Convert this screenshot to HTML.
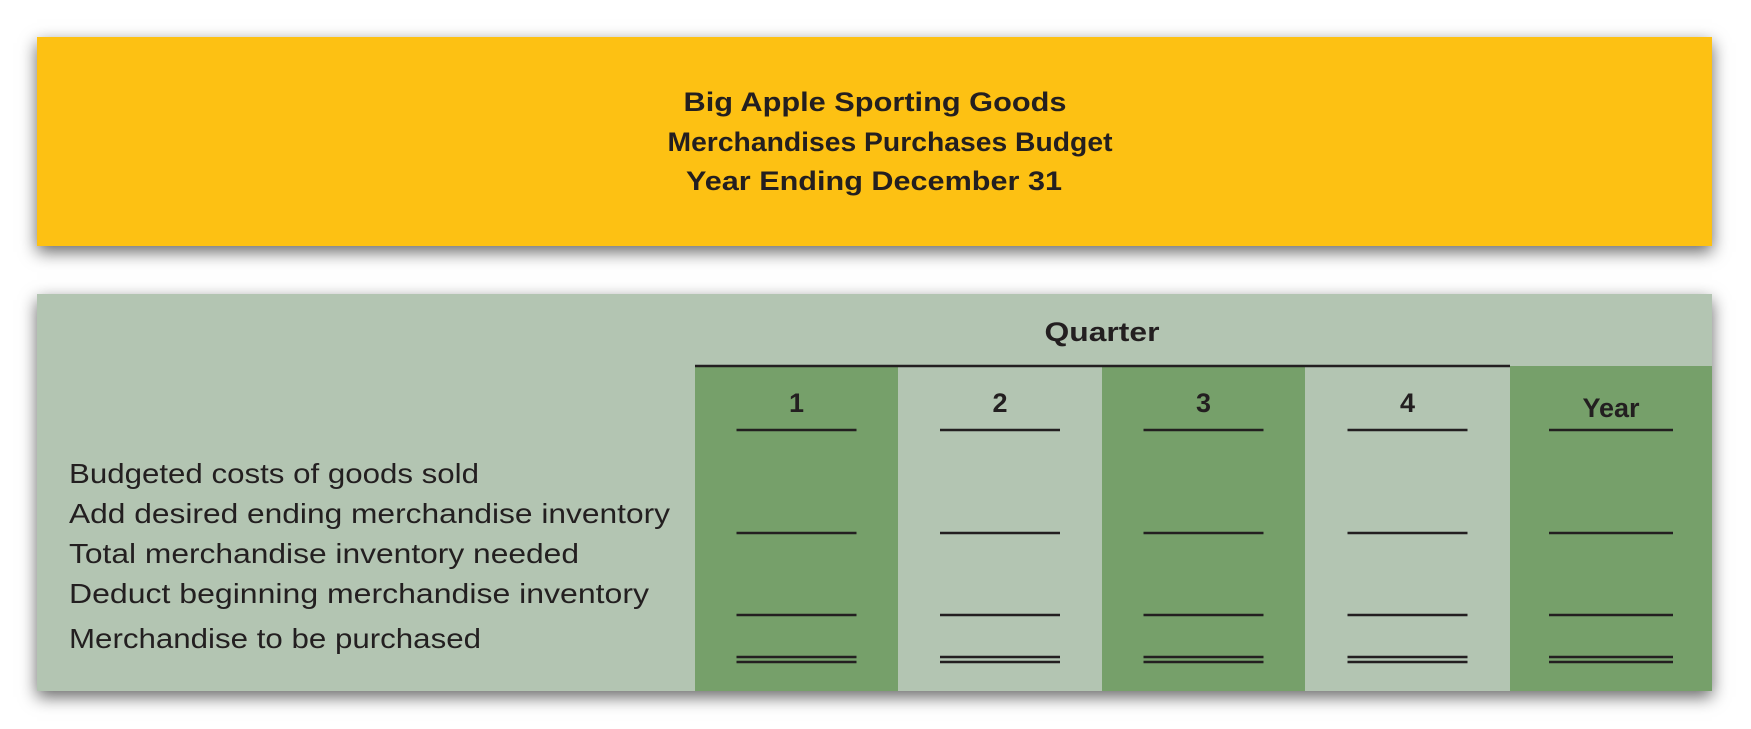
<!DOCTYPE html>
<html><head><meta charset="utf-8"><style>
html,body{margin:0;padding:0;background:#fff;}
body{width:1751px;height:729px;position:relative;overflow:hidden;font-family:"Liberation Sans",sans-serif;}
.box{position:absolute;left:37px;width:1675px;box-shadow:0 6px 16px rgba(0,0,0,0.6);}
svg{position:absolute;left:0;top:0;}
</style></head><body>
<div class="box" style="top:37px;height:209px;background:#FDC113;"></div>
<div class="box" style="top:294px;height:397px;background:#B3C5B2;"></div>
<svg width="1751" height="729">
  <g id="cols"></g>
  <g font-weight="bold" fill="#231f20" font-size="27" text-anchor="middle">
    <text x="875" y="111" textLength="383" lengthAdjust="spacingAndGlyphs">Big Apple Sporting Goods</text>
    <text x="890" y="151" textLength="445" lengthAdjust="spacingAndGlyphs">Merchandises Purchases Budget</text>
    <text x="874" y="190" textLength="376" lengthAdjust="spacingAndGlyphs">Year Ending December 31</text>
    <text x="1102" y="341" font-size="27" textLength="115" lengthAdjust="spacingAndGlyphs">Quarter</text>
  </g>
  <line x1="695" y1="366" x2="1510" y2="366" stroke="#231f20" stroke-width="2.5"/>
  <g id="rows" fill="#231f20" font-size="28"></g>
  <g id="marks"></g>
</svg>
<script>
const colLabels = ['1','2','3','4','Year'];
const rowLabels = ['Budgeted costs of goods sold','Add desired ending merchandise inventory','Total merchandise inventory needed','Deduct beginning merchandise inventory','Merchandise to be purchased'];
const rowWidths = [410,601,510,580,412];
const NS='http://www.w3.org/2000/svg';
const colX=[695,898,1102,1305,1510,1712];
const rowY=[483,523,563,603,648];
const cols=document.getElementById('cols'), marks=document.getElementById('marks'), rows=document.getElementById('rows');
function mk(tag,attrs,parent){const e=document.createElementNS(NS,tag);for(const k in attrs)e.setAttribute(k,attrs[k]);parent.appendChild(e);return e;}
colLabels.forEach((lab,i)=>{
  const x0=colX[i], x1=colX[i+1], cx=(x0+x1)/2;
  if(i%2===0){
    const r=mk('rect',{x:x0,y:366,width:x1-x0,height:325,fill:'#76A06A'},cols);
    
    
  }
  const t=mk('text',{x:cx,y:lab==='Year'?417:412,'text-anchor':'middle','font-weight':'bold','font-size':'27',fill:'#231f20'},marks);
  t.textContent=lab;
  
  
  const w=i===4?124:120;
  [[430],[533],[615],[657,662]].forEach((ys,j)=>{
    ys.forEach(y=>{
      const l=mk('line',{x1:cx-w/2,x2:cx+w/2,y1:y,y2:y,stroke:'#231f20','stroke-width':2.5},marks);
      
      
    });
  });
});
rowLabels.forEach((lab,i)=>{
  const t=mk('text',{x:69,y:rowY[i],textLength:rowWidths[i],lengthAdjust:'spacingAndGlyphs'},rows);
  t.textContent=lab;
  
  
});
</script>
</body></html>
